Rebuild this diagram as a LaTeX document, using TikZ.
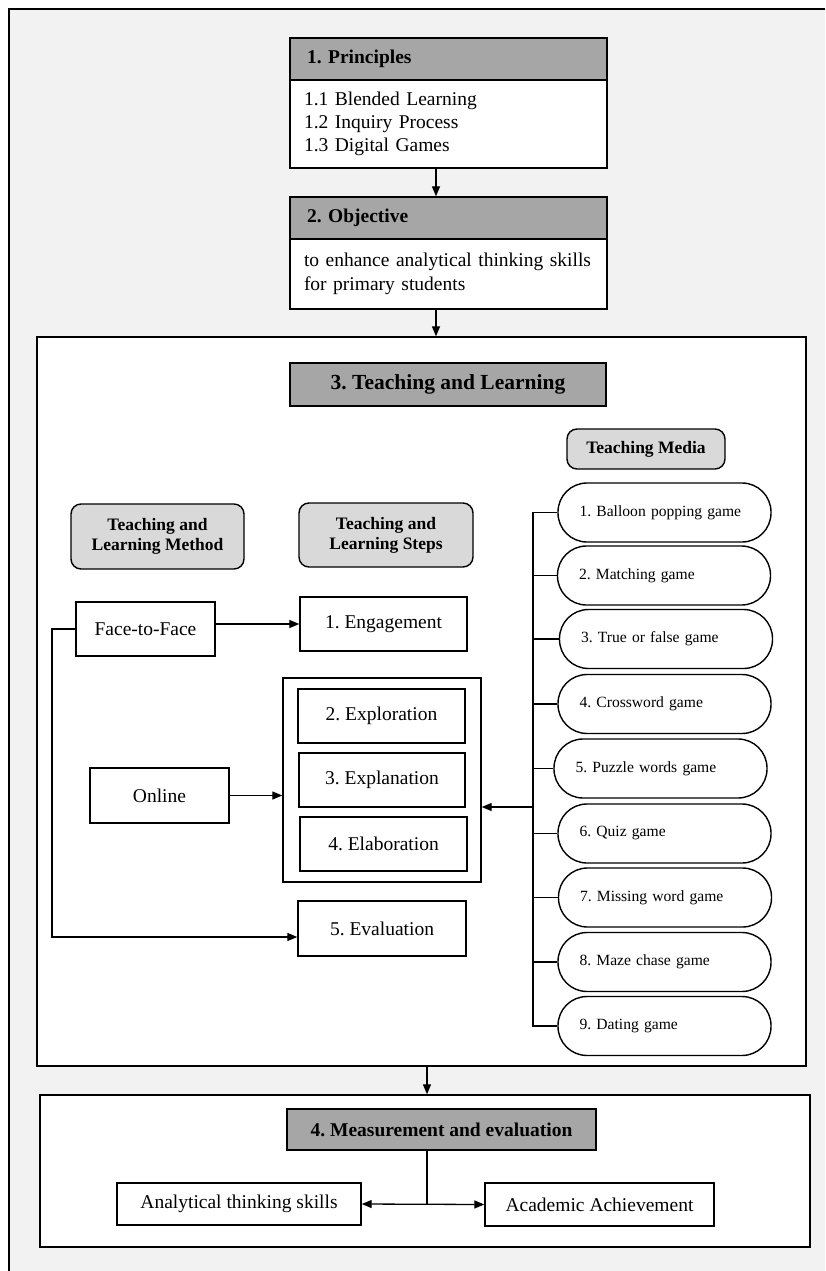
\documentclass[tikz,border=0pt]{standalone}
\usepackage{fontspec}
\setmainfont{Liberation Serif}
\usetikzlibrary{arrows.meta}
\definecolor{bggray}{HTML}{F2F2F2}
\definecolor{hdrgray}{HTML}{A6A6A6}
\definecolor{lgray}{HTML}{D9D9D9}
\tikzset{
  bx/.style={draw, line width=1.4pt, fill=white, inner sep=0pt, font=\fontsize{19.5}{23}\selectfont, align=center},
  hdr/.style={draw, line width=1.4pt, fill=hdrgray, inner sep=0pt, font=\bfseries\fontsize{19.5}{23}\selectfont},
  rbox/.style={draw, line width=1.4pt, fill=lgray, rounded corners=10pt, inner sep=0pt, align=center, font=\bfseries\fontsize{17.5}{20}\selectfont},
  game/.style={draw, line width=1.4pt, fill=white, rounded corners=29pt, minimum width=213pt, minimum height=59pt, text width=170pt, inner xsep=21.5pt, inner ysep=0pt, align=left, font=\fontsize{15.6}{18}\selectfont},
  frame/.style={draw, line width=1.4pt, fill=white, inner sep=0pt},
  arr/.style={-{Triangle[length=10pt,width=8pt]}, line width=1.3pt},
  ln/.style={line width=1.3pt}
}
\begin{document}
\frenchspacing
\begin{tikzpicture}[x=1pt,y=-1pt]
\useasboundingbox (0,0) rectangle (825,1271);
\fill[white] (0,0) rectangle (825,1271);
\fill[bggray] (9,9) rectangle (825,1271);
\draw[line width=1.6pt] (825,9) -- (9,9) -- (9,1271);

% helper coordinates
\coordinate (ax) at (436,0);
\coordinate (bxx) at (427,0);
\coordinate (lx) at (52,0);
\coordinate (busx) at (533,0);

% 1. Principles
\node[hdr, minimum height=42pt, text width=283pt, inner xsep=17pt, align=left] (phdr) at (448.5,59) {1. Principles};
\node[bx, minimum height=88pt, text width=289pt, inner xsep=14pt, align=left] (pbody) at (448.5,124)
  {1.1 Blended Learning\\1.2 Inquiry Process\\1.3 Digital Games};

% 2. Objective
\node[hdr, minimum height=42pt, text width=283pt, inner xsep=17pt, align=left] (ohdr) at (448.5,218) {2. Objective};
\node[bx, minimum height=70pt, text width=289pt, inner xsep=14pt, align=left, font=\fontsize{19.5}{24}\selectfont] (obody) at (448.5,274)
  {to enhance analytical thinking skills\\for primary students};

\draw[arr] (pbody.south -| ax) -- (ohdr.north -| ax);

% 3. Teaching and Learning frame
\node[frame, minimum width=769pt, minimum height=729pt] (box3) at (421.5,701.5) {};
\draw[arr] (obody.south -| ax) -- (box3.north -| ax);

\node[hdr, minimum width=316pt, minimum height=43pt, font=\bfseries\fontsize{21.5}{25}\selectfont] (thdr) at (448,384.5) {3. Teaching and Learning};

\node[rbox, minimum width=173pt, minimum height=65pt] (method) at (157.5,536.5) {Teaching and\\Learning Method};
\node[rbox, minimum width=174pt, minimum height=64pt] (steps) at (386,535) {Teaching and\\Learning Steps};
\node[rbox, minimum width=158pt, minimum height=40pt] (media) at (646,449) {Teaching Media};

\node[bx, minimum width=139pt, minimum height=54pt] (f2f) at (145.5,629) {Face-to-Face};
\node[bx, minimum width=139pt, minimum height=55pt] (online) at (159.5,795.5) {Online};

\node[bx, minimum width=167pt, minimum height=54pt] (eng) at (383.5,624) {1. Engagement};
\node[frame, minimum width=198pt, minimum height=204pt] (grp) at (382,780) {};
\node[bx, minimum width=167pt, minimum height=54pt] (expl) at (381.5,716) {2. Exploration};
\node[bx, minimum width=166pt, minimum height=54pt] (expn) at (382,780) {3. Explanation};
\node[bx, minimum width=167pt, minimum height=54pt] (elab) at (383.5,844) {4. Elaboration};
\node[bx, minimum width=168pt, minimum height=55pt] (eval) at (382,928.5) {5. Evaluation};

\draw[arr] (f2f.east |- eng.west) -- (eng.west);
\draw[arr] (online.east) -- (online.east -| grp.west);
\draw[arr] (f2f.west) -- (f2f.west -| lx) -- ([yshift=-8.5pt]eval.west -| lx) -- ([yshift=-8.5pt]eval.west);

% Teaching media games
\node[game] (m1) at (664.5,512.5) {1. Balloon popping game};
\node[game] (m2) at (664,575.5) {2. Matching game};
\node[game] (m3) at (666,639) {3. True or false game};
\node[game] (m4) at (664.5,704) {4. Crossword game};
\node[game] (m5) at (660.5,768.5) {5. Puzzle words game};
\node[game] (m6) at (664.5,833.5) {6. Quiz game};
\node[game] (m7) at (665,897.5) {7. Missing word game};
\node[game] (m8) at (664.5,962) {8. Maze chase game};
\node[game] (m9) at (664.5,1026) {9. Dating game};

\draw[ln] (m1.west) -- (m1.west -| busx) -- (m9.west -| busx) -- (m9.west);
\foreach \i in {2,...,8} { \draw[ln] (m\i.west) -- (m\i.west -| busx); }
\coordinate (mediain) at (533,807);
\draw[arr] (mediain) -- (mediain -| grp.east);

% 4. Measurement and evaluation
\node[frame, minimum width=770pt, minimum height=152pt] (box4) at (425,1171) {};
\draw[arr] (box3.south -| bxx) -- (box4.north -| bxx);
\node[hdr, minimum width=309pt, minimum height=41pt] (mhdr) at (441.5,1129.5) {4. Measurement and evaluation};
\node[bx, minimum width=244pt, minimum height=42pt] (ana) at (239,1204) {Analytical thinking skills};
\node[bx, minimum width=229pt, minimum height=43pt] (aca) at (599.5,1204.5) {Academic Achievement};
\draw[ln] (mhdr.south -| bxx) -- (bxx |- ana.east);
\draw[{Triangle[length=10pt,width=8pt]}-{Triangle[length=10pt,width=8pt]}, line width=1.3pt] (ana.east) -- (aca.west);
\end{tikzpicture}
\end{document}
